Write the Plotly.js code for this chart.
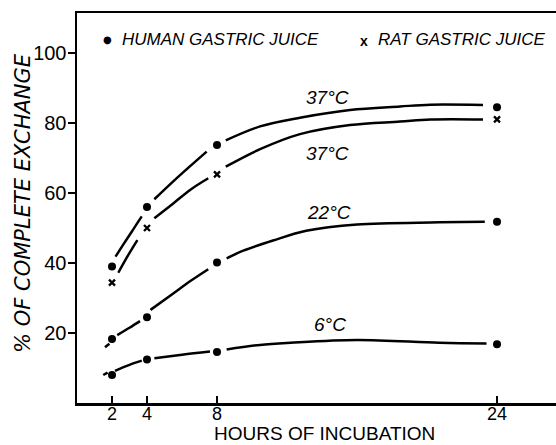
<!DOCTYPE html>
<html>
<head>
<meta charset="utf-8">
<script src="https://cdn.plot.ly/plotly-3.0.1.min.js"></script>
<style>html,body{margin:0;padding:0;background:#fff;}#chart{width:556px;height:445px;}</style>
</head>
<body>
<div id="chart"></div>
<script>
// Measured data points (hours, % of complete exchange)
const hours = [2, 4, 8, 24];
const human37 = [39, 56, 73.7, 84.5];
const rat37 = [34.4, 50, 65.3, 81];
const human22 = [18.3, 24.5, 40.1, 51.8];
const human6 = [8, 12.4, 14.6, 16.8];

// Hand-drawn fitted curves (null = break in the line)
const human37FitX = [2.2, 2.65, 3.07, 3.5, 3.7, null, 4.42, 5.5, 6.5, 7.41, null, 8.5, 10.46, 12.74, 15.6, 18.46, 20.2, 23.2];
const human37FitY = [41.8, 45.3, 48.5, 51.8, 53.3, null, 58.2, 63.3, 67.8, 71.8, null, 75, 79, 81.5, 83.7, 84.7, 85.2, 85.1];
const rat37FitX = [2.36, 2.9, 3.45, null, 4.42, 5.5, 6.5, 7.5, null, 8.5, 10.46, 12.74, 15.6, 18.46, 20.2, 23.2];
const rat37FitY = [37.2, 42, 46.5, null, 52.8, 57, 61, 64.2, null, 67.5, 72.5, 76.8, 79.4, 80.4, 81, 81];
const human22FitX = [1.6, 1.85, null, 2.3, 3.0, 3.6, null, 4.2, 5.5, 6.5, 7.5, null, 8.55, 9.5, 11.2, 13.1, 16, 20.7, 23.3];
const human22FitY = [15.9, 16.9, null, 19.4, 21.5, 23.4, null, 26.6, 31.3, 34.9, 38.2, null, 41.3, 43.5, 46.4, 49.2, 51, 51.6, 51.8];
const human6FitX = [1.5, 1.75, null, 2.17, 3.0, 3.7, null, 4.42, 6.0, 7.6, null, 8.55, 10.46, 12.2, 16, 20.7, 23.4];
const human6FitY = [8, 8.7, null, 9.2, 10.9, 12.1, null, 12.8, 13.8, 14.7, null, 15.3, 16.6, 17.2, 18, 17.2, 17];

// Tick labels
const xTicks = [2, 4, 8, 24];
const yTicks = [20, 40, 60, 80, 100];

// Titles
const xTitle = 'HOURS OF INCUBATION';
const yTitle = '% OF COMPLETE EXCHANGE';

// Curve labels
const curveLabels = ['37°C', '37°C', '22°C', '6°C'];
const labelX = [14.34, 14.29, 14.4, 14.46];
const labelY = [87.4, 71.4, 54.3, 22.3];

const ink = '#000000';
const sans = 'Liberation Sans, Arial, sans-serif';
const fitLine = (x, y) => ({
  x: x, y: y, type: 'scatter', mode: 'lines', connectgaps: false,
  line: {color: ink, width: 2.5, shape: 'spline', smoothing: 1},
  hoverinfo: 'skip', showlegend: false
});

const traces = [
  fitLine(human37FitX, human37FitY),
  fitLine(rat37FitX, rat37FitY),
  fitLine(human22FitX, human22FitY),
  fitLine(human6FitX, human6FitY),
  {x: hours.concat(hours, hours), y: human37.concat(human22, human6), type: 'scatter', mode: 'markers',
   name: 'HUMAN GASTRIC JUICE', marker: {symbol: 'circle', size: 8, color: ink}, showlegend: false},
  {x: hours, y: rat37, type: 'scatter', mode: 'markers', name: 'RAT GASTRIC JUICE',
   marker: {symbol: 'x-thin-open', size: 6, color: ink, line: {color: ink, width: 2.3}}, showlegend: false}
];

const annFont = {family: sans, size: 19, color: ink, style: 'italic'};
const annotations = curveLabels.map((t, i) => ({
  x: labelX[i], y: labelY[i], xref: 'x', yref: 'y', text: t, showarrow: false,
  font: annFont, xanchor: 'center', yanchor: 'middle'
}));
// legend text
annotations.push(
  {x: 1.77, y: 103.9, xref: 'x', yref: 'y', text: '●', showarrow: false, font: {family: 'DejaVu Sans', size: 10, color: ink}, xanchor: 'center', yanchor: 'middle'},
  {x: 2.46, y: 103.7, xref: 'x', yref: 'y', text: 'HUMAN GASTRIC JUICE', showarrow: false, font: {family: sans, size: 17, color: ink, style: 'italic'}, xanchor: 'left', yanchor: 'middle'},
  {x: 16.4, y: 103.5, xref: 'x', yref: 'y', text: '<b>x</b>', showarrow: false, font: {family: sans, size: 14, color: ink}, xanchor: 'center', yanchor: 'middle'},
  {x: 17.09, y: 103.7, xref: 'x', yref: 'y', text: 'RAT GASTRIC JUICE', showarrow: false, font: {family: sans, size: 17, color: ink, style: 'italic'}, xanchor: 'left', yanchor: 'middle'},
  // axis titles placed precisely
  {x: 0.5167, y: -0.1077, xref: 'paper', yref: 'paper', text: xTitle, showarrow: false,
   font: {family: sans, size: 19, color: ink}, xanchor: 'center', yanchor: 'bottom', borderpad: 0},
  {x: -0.1127, y: 0.513, xref: 'paper', yref: 'paper', text: yTitle, showarrow: false, textangle: -90,
   font: {family: 'DejaVu Sans, sans-serif', size: 21, color: ink, style: 'italic'}, xanchor: 'center', yanchor: 'middle'}
);

const layout = {
  width: 556, height: 445,
  margin: {l: 77, r: 0, t: 13, b: 42, pad: 0},
  paper_bgcolor: '#ffffff', plot_bgcolor: '#ffffff',
  showlegend: false,
  xaxis: {
    range: [0, 27.37], tickvals: xTicks, ticktext: xTicks.map(String),
    ticks: 'inside', ticklen: 7, tickwidth: 2, tickcolor: ink,
    showline: true, linewidth: 2.5, linecolor: ink, mirror: true,
    showgrid: false, zeroline: false, ticklabelstandoff: -7,
    tickfont: {family: sans, size: 18, color: ink},
    fixedrange: true
  },
  yaxis: {
    range: [0, 111.4], tickvals: yTicks, ticktext: yTicks.map(String),
    ticks: 'outside', ticklen: 7, tickwidth: 2, tickcolor: ink,
    showline: true, linewidth: 2.5, linecolor: ink,
    showgrid: false, zeroline: false, ticklabelstandoff: -3,
    tickfont: {family: sans, size: 20, color: ink},
    fixedrange: true
  },
  annotations: annotations
};

Plotly.newPlot('chart', traces, layout, {displayModeBar: false, staticPlot: true});
</script>
</body>
</html>
